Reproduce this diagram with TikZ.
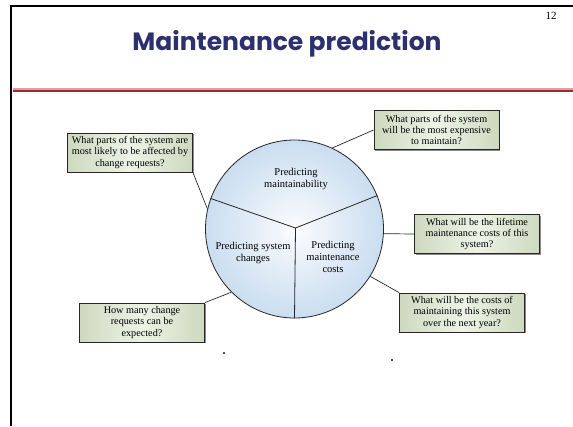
\documentclass[tikz,border=0pt]{standalone}
\usepackage{fontspec}
\setmainfont{Liberation Serif}
\newfontfamily\titlefont{Poppins}
\usetikzlibrary{shadows}
\definecolor{titleblue}{HTML}{2D2F6E}
\definecolor{rulepink}{HTML}{D9A3A6}
\definecolor{rulered}{HTML}{A0282D}
\definecolor{boxmid}{HTML}{EDF3E6}
\definecolor{boxedge}{HTML}{CDD9BF}
\definecolor{wheelin}{HTML}{FBFCFE}
\definecolor{wheelout}{HTML}{CADDF0}
\begin{document}
\begin{tikzpicture}[x=1pt,y=-1pt,
  question/.style={draw=black!85, line width=0.8pt, minimum width=125pt,
    minimum height=39pt, inner sep=0pt, align=center,
    font=\fontsize{10.2}{11.3}\selectfont,
    left color=boxedge, right color=boxedge, middle color=boxmid,
    drop shadow={shadow xshift=1pt, shadow yshift=-1pt, fill=black!45, opacity=1}},
  link/.style={draw=black!85, line width=0.7pt},
  seglabel/.style={align=center, font=\fontsize{10.5}{12}\selectfont},
  divider/.style={draw=black!85, line width=0.8pt}
]
% canvas
\fill[white] (0,0) rectangle (573,426);
\useasboundingbox (0,0) rectangle (573,426);

% slide frame and header rule
\draw[line width=2.3pt] (11.3,426) -- (11.3,6.2) -- (573,6.2);
\draw[rulepink, line width=1.4pt] (12.5,88.8) -- (573,88.8);
\draw[rulered, line width=1.6pt] (12.5,90.9) -- (573,90.9);

% heading and slide number
\node[font=\titlefont\bfseries\fontsize{25}{30}\selectfont, text=titleblue] (title) at (287,44) {Maintenance prediction};
\node[font=\fontsize{11}{13}\selectfont, inner sep=0pt] (pageno) at (551,15.5) {12};

% central wheel with three sectors
\node[circle, draw=black!85, line width=0.8pt, minimum size=178pt, inner sep=0pt,
      inner color=wheelin, outer color=wheelout] (wheel) at (294.5,229) {};
\coordinate (hub) at (295.5,228);
\draw[divider] (hub) -- (wheel.160);
\draw[divider] (hub) -- (wheel.22);
\draw[divider] (hub) -- (wheel.270);

\node[seglabel] (mnt) at (296,179) {Predicting\\maintainability};
\node[seglabel] (chg) at (253,253) {Predicting system\\changes};
\node[seglabel] (cst) at (333,257) {Predicting\\maintenance\\costs};

% question boxes
\node[question] (q1) at (130,152.5) {What parts of the system are\\most likely to be affected by\\change requests?};
\node[question] (q2) at (436.5,130) {What parts of the system\\will be the most expensive\\to maintain?};
\node[question] (q3) at (477,234) {What will be the lifetime\\maintenance costs of this\\system?};
\node[question] (q4) at (462,312.5) {What will be the costs of\\maintaining this system\\over the next year?};
\node[question] (q5) at (142,322.5) {How many change\\requests can be\\expected?};

% connectors
\draw[link] (q1.south east) -- (wheel.167);
\draw[link] (q2.west) -- (wheel.65);
\draw[link] (q3.west) -- (wheel.-3);
\draw[link] (q4.north west) -- (wheel.-32);
\draw[link] (q5.north east) -- (wheel.-135);

% stray specks
\fill[black!70] (223.3,352.3) rectangle (224.7,353.7);
\fill[black!70] (391.3,359.3) rectangle (392.7,360.7);
\end{tikzpicture}
\end{document}
